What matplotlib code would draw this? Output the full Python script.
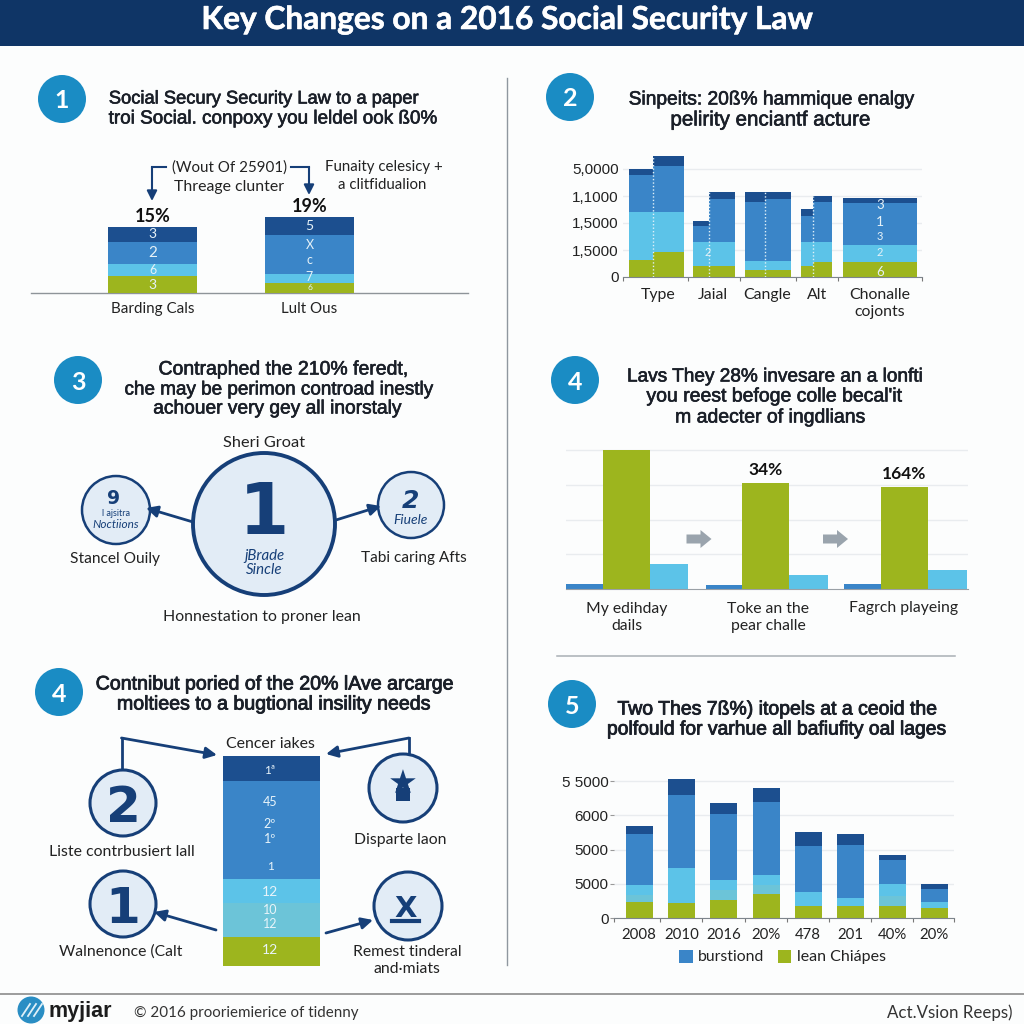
import matplotlib
matplotlib.use("Agg")
import matplotlib.pyplot as plt
import matplotlib.patheffects as pe
from matplotlib.patches import Circle, Rectangle, FancyArrowPatch, FancyArrow
import numpy as np

plt.rcParams['font.family'] = ['Lato', 'Liberation Sans', 'DejaVu Sans']

NAVY = '#163f78'; DARK = '#1c4f8f'; MID = '#3a85c8'; LIGHT = '#5cc3e8'; TEAL = '#6cc4d8'
GREEN = '#9db51e'; BADGE = '#1a8cc4'; TXT = '#222222'; PALE = '#e2ecf6'; GRID = '#e9ecef'
SER_COL = [GREEN, LIGHT, MID, DARK]

title = 'Key Changes on a 2016 Social Security Law'

# Panel 1
p1_cats = ['Barding Cals', 'Lult Ous']
p1_pct = ['15%', '19%']
p1_green = [17, 10]; p1_light = [12, 9]; p1_mid = [22, 39]; p1_dark = [15, 18]

# Panel 2 (split bars)
p2_green = [640, 914, 420, 420, 272, 272, 420, 543, 543]
p2_light = [1755, 1481, 864, 864, 309, 309, 889, 765, 642]
p2_mid = [1370, 1704, 617, 1617, 2198, 2321, 963, 1469, 1543]
p2_dark = [247, 370, 185, 247, 383, 259, 235, 210, 210]
p2_ticks = [0, 1000, 2000, 3000, 4000]
p2_ticklabels = ['0', '1,5000', '1,5000', '1,1000', '5,0000']

# Panel 4 right
p4_cats = ['My edihday\ndails', 'Toke an the\npear challe', 'Fagrch playeing']
p4_green = [139, 106, 102]
p4_blue = [5, 4, 5]
p4_light = [25, 14, 19]
p4_pct = ['', '34%', '164%']

# Panel 4 left stack
s_values = [29, 34, 24, 98, 25]
s_colors = [GREEN, TEAL, LIGHT, MID, DARK]

# Panel 5
p5_cats = ['2008', '2010', '2016', '20%', '478', '201', '40%', '20%']
p5_green = [459, 439, 517, 712, 341, 361, 341, 283]
p5_teal = [224, 0, 293, 254, 0, 0, 293, 0]
p5_light = [283, 1015, 293, 293, 410, 224, 371, 176]
p5_mid = [1493, 2156, 1941, 2137, 1356, 1561, 702, 390]
p5_dark = [234, 468, 322, 400, 410, 322, 146, 137]
p5_ticks = [0, 1000, 2000, 3000, 4000]
p5_ticklabels = ['0', '5000', '5000', '6000', '5 5000']

W = 1024
fig = plt.figure(figsize=(10.24, 10.24), dpi=100, facecolor='#fcfdfd')

def px_axes(x0, y0, x1, y1, z=2):
    ax = fig.add_axes([x0 / W, 1 - y1 / W, (x1 - x0) / W, (y1 - y0) / W], zorder=z)
    ax.patch.set_alpha(0)
    return ax

ov = px_axes(0, 0, W, W, z=1)
ov.set_xlim(0, W); ov.set_ylim(W, 0); ov.axis('off')
top = px_axes(0, 0, W, W, z=9)
top.set_xlim(0, W); top.set_ylim(W, 0); top.axis('off')

def T(x, y, s, size=11.4, color=TXT, weight='normal', ha='center', style='normal', ax=top,
      family=None, va='center', stroke=0, ls=1.3):
    t = ax.text(x, y, s, fontsize=size, color=color, weight=weight, ha=ha, va=va,
                style=style, zorder=6, linespacing=ls, family=family)
    if stroke:
        t.set_path_effects([pe.withStroke(linewidth=stroke, foreground=color)])
    return t

HEAD = ['Liberation Sans', 'DejaVu Sans']
NUM = ['DejaVu Sans']

def H(x, y, s, size=13.5, stroke=0.45, color='#1a1f28'):
    T(x, y, s, size=size, family=HEAD, stroke=stroke, color=color)

def badge(x, y, s, r=24):
    ov.add_patch(Circle((x, y), r, fc=BADGE, ec='none', zorder=4))
    T(x, y, s, size=18, color='white', weight='bold', va='center_baseline')

def ring(x, y, r, lw=2.2):
    ov.add_patch(Circle((x, y), r, fc=PALE, ec=NAVY, lw=lw, zorder=4))

def arrow(pts, lw=2.0, ms=17):
    xs = [p[0] for p in pts]; ys = [p[1] for p in pts]
    if len(pts) > 2:
        ov.plot(xs[:-1], ys[:-1], color=NAVY, lw=lw, zorder=3, solid_joinstyle='miter')
    ov.add_patch(FancyArrowPatch(pts[-2], pts[-1], arrowstyle='-|>', mutation_scale=ms,
                                 color=NAVY, lw=lw, shrinkA=0, shrinkB=0, zorder=5))

# Header / frame
ov.add_patch(Rectangle((0, 0), W, 46, fc='#0f3566', ec='none', zorder=2))
T(506, 17, title, size=22.8, color='white', weight='bold', family=['Lato', 'DejaVu Sans'],
  va='center_baseline', stroke=0.4)
ov.plot([506.5, 506.5], [78, 965], color='#8f979f', lw=1.0, zorder=2)
ov.plot([557, 955], [656, 656], color='#a9afb5', lw=1.1, zorder=2)
ov.plot([0, W], [994, 994], color='#8c8c8c', lw=1.2, zorder=2)

# Badges and headings
badge(62, 99, '1'); badge(570, 97, '2'); badge(78, 380, '3'); badge(575, 380, '4')
badge(59, 692, '4'); badge(572, 704, '5')
H(264, 99, 'Social Secury Security Law to a paper', 13.2)
H(272, 119, 'troi Social. conpoxy you leldel ook ß0%', 13.6)
H(771, 100, 'Sinpeits: 20ß% hammique enalgy', 13.8)
H(770, 120, 'pelirity enciantf acture', 14.8)
H(284, 370, 'Contraphed the 210% feredt,', 14)
H(278, 390, 'che may be perimon controad inestly', 13.6)
H(277, 409, 'achouer very gey all inorstaly', 13.8)
H(774, 377, 'Lavs They 28% invesare an a lonfti', 13.7)
H(775, 397, 'you reest befoge colle becal\'it', 14)
H(771, 418, 'm adecter of ingdlians', 14)
H(276, 684, 'Contnibut poried of the 20% lAve arcarge', 14.1, stroke=0.6)
H(275, 704, 'moltiees to a bugtional insility needs', 14.1, stroke=0.6)
H(778, 710, 'Two Thes 7ß%) itopels at a ceoid the', 14, stroke=0.6)
H(776, 730, 'polfould for varhue all bafiufity oal lages', 13.9, stroke=0.6)

# Panel 1 chart
a1 = px_axes(31, 200, 468, 293)
a1.set_xlim(31, 468); a1.set_ylim(0, 93); a1.axis('off')
p1_x = [152.5, 309.5]
bot = np.zeros(2)
for vals, c, in zip([p1_green, p1_light, p1_mid, p1_dark], SER_COL):
    a1.bar(p1_x, vals, width=89, bottom=bot, color=c, zorder=2)
    bot += np.array(vals)
for i in range(2):
    a1.text(p1_x[i], bot[i] + 11, p1_pct[i], fontsize=13, weight='bold', color='#111111', ha='center', va='center')
ov.plot([31, 468], [293, 293], color='#8e9499', lw=1.0, zorder=3)
for x, c in zip(p1_x, p1_cats):
    T(x, 309, c, 10.9)
for x, y, s, sz in [(152.5, 234, '3', 10), (152.5, 253, '2', 11), (152.5, 270, '6', 9), (152.5, 285, '3', 10),
                    (309.5, 226, '5', 10), (309.5, 245, 'X', 9), (309.5, 260, 'c', 9), (309.5, 277, '7', 9),
                    (309.5, 288, '6', 6)]:
    T(x, y, s, sz, color='#e6f2f8')
arrow([(166, 167), (152, 167), (152, 201)], lw=1.5, ms=15)
arrow([(291, 167), (309, 167), (309, 195)], lw=1.5, ms=15)
T(229, 168, '(Wout Of 25901)', 10.9)
T(229, 187, 'Threage clunter', 11.4)
T(384, 167, 'Funaity celesicy +', 10.8)
T(382, 185, 'a clitfidualion', 10.8)

# Panel 2 chart
a2 = px_axes(623, 140, 922, 277)
a2.set_xlim(623, 922); a2.set_ylim(0, 137 / 27 * 1000)
p2_left = [629, 653, 693, 709, 745, 765, 801, 813, 843]
p2_w = [24, 31, 16, 26, 20, 26, 12, 19, 74]
bot = np.zeros(9)
for vals, c in zip([p2_green, p2_light, p2_mid, p2_dark], SER_COL):
    a2.bar(p2_left, vals, width=p2_w, bottom=bot, align='edge', color=c, zorder=2)
    bot += np.array(vals)
for x, t_ in zip([653, 709, 765, 813], [bot[1], bot[3], bot[5], bot[7]]):
    a2.plot([x, x], [0, t_], color='#dff0f8', lw=1, ls=(0, (1, 1.5)), zorder=3)
a2.set_yticks(p2_ticks)
a2.set_yticklabels(p2_ticklabels, fontsize=11, color=TXT, family=HEAD)
a2.set_xticks([623, 688, 740, 796, 838, 922]); a2.set_xticklabels([])
a2.tick_params(axis='x', length=3, color='#777777')
a2.tick_params(axis='y', length=0, pad=3)
a2.grid(axis='y', color=GRID, lw=1, zorder=0)
for s in ['top', 'right', 'left']:
    a2.spines[s].set_visible(False)
a2.spines['bottom'].set_color('#7d858c')
T(658, 295, 'Type'); T(713, 295, 'Jaial'); T(767, 295, 'Cangle'); T(817, 295, 'Alt')
T(880, 303.5, 'Chonalle\ncojonts', ls=1.32)
for x, y, s, sz in [(880, 205, '3', 9.5), (880, 222, '1', 10), (880, 236, '3', 8), (880, 252, '2', 8), (880, 272, '6', 9.5),
                    (708, 252, '2', 8)]:
    T(x, y, s, sz, color='#e6f2f8')

# Panel 3 diagram
ring(264, 524, 71, lw=2.8)
T(264, 507, '1', 52, color=NAVY, weight='bold', family=NUM, va='center_baseline')
T(264, 556, 'jBrade', 10.8, color=NAVY, style='italic')
T(264, 570, 'Sincle', 10.8, color=NAVY, style='italic')
T(264, 443, 'Sheri Groat', 11.8)
T(262, 617, 'Honnestation to proner lean', 11.45)
ring(116, 510, 34, lw=1.8)
T(114, 496, '9', 13.5, color=NAVY, weight='bold', family=NUM, va='center_baseline')
T(116, 513, 'l ajsitra', 6.5, color=NAVY)
T(116, 525, 'Noctiions', 8.5, color=NAVY, style='italic')
T(115, 559, 'Stancel Ouily', 11.2)
ring(411, 505, 33, lw=1.8)
T(410, 499, '2', 18, color=NAVY, weight='bold', style='italic', family=NUM, va='center_baseline')
T(411, 520, 'Fiuele', 10, color=NAVY, style='italic')
T(414, 558, 'Tabi caring Afts', 11.1)
arrow([(193, 522), (146, 508)])
arrow([(336, 520), (381, 506)])

# Panel 4 right chart
a4 = px_axes(566, 440, 968, 589)
a4.set_xlim(566, 968); a4.set_ylim(0, 149)
a4.set_yticks([35, 69.5, 104, 139])
a4.tick_params(length=0, labelleft=False, labelbottom=False)
a4.grid(axis='y', color=GRID, lw=1, zorder=0)
for s in ['top', 'right', 'left']:
    a4.spines[s].set_visible(False)
a4.spines['bottom'].set_color('#9aa0a6')
x_blue = [584.5, 724, 862]; x_green = [626, 765.8, 904]; x_light = [669, 808.3, 947.5]
a4.bar(x_blue, p4_blue, width=37, color=MID, zorder=2)
a4.bar(x_green, p4_green, width=47, color=GREEN, zorder=3)
a4.bar(x_light, p4_light, width=38.5, color=LIGHT, zorder=2)
for x, v, s in zip(x_green, p4_green, p4_pct):
    if s:
        a4.text(x, v + 13, s, fontsize=12.5, weight='bold', ha='center', va='center', color='#111111')
for x, c in zip([627, 768, 904], p4_cats):
    T(x, 608 if '\n' not in c else 617.5, c, 11.3, ls=1.28)
for x in [686.5, 823]:
    ov.add_patch(FancyArrow(x, 539, 25, 0, width=9, head_width=18, head_length=11,
                            length_includes_head=True, color='#9aa4ad', lw=0, zorder=4))

# Panel 4 left stack
a5 = px_axes(223, 756, 320, 966)
a5.set_xlim(0, 1); a5.set_ylim(0, sum(s_values)); a5.axis('off')
b = 0
for v, c in zip(s_values, s_colors):
    a5.bar(0.5, v, width=1, bottom=b, color=c)
    b += v
T(270, 744, 'Cencer iakes', 11.4)
for y, s, sz in [(770, '1ª', 8.5), (802, '45', 9), (824, '2º', 9), (839, '1º', 9), (867, '1', 8.5),
                 (892, '12', 10), (910, '10', 9), (924, '12', 9), (950, '12', 10)]:
    T(270, y, s, sz, color='#e8f4fa')
ring(123, 803, 33)
T(123, 803, '2', 36, color=NAVY, weight='bold', family=NUM, va='center_baseline')
T(122, 852, 'Liste contrbusiert lall', 11.4)
ring(123, 904, 33)
T(123, 904, '1', 36, color=NAVY, weight='bold', family=NUM, va='center_baseline')
T(121, 952, 'Walnenonce (Calt', 11.3)
ring(403, 788, 34)
T(403, 781, '★', 24, color=NAVY, family=NUM, va='center_baseline')
ov.add_patch(Rectangle((396, 788), 14, 13, fc=NAVY, ec='none', zorder=5))
T(400, 840, 'Disparte laon', 11.3)
ring(408, 906, 34)
T(406, 906, 'X', 21, color=NAVY, weight='bold', family=NUM, va='center_baseline')
ov.plot([392, 419], [921, 921], color=NAVY, lw=3, zorder=5)
T(407, 960.5, 'Remest tinderal\nand·miats', 11.3, ls=1.35)
arrow([(121.5, 771), (121.5, 738), (217, 755)])
arrow([(409, 753), (409, 738), (326, 754)])
arrow([(216, 930), (154, 912)])
arrow([(326, 933), (373, 920)])

# Panel 5 chart
a6 = px_axes(614, 770, 954, 918)
a6.set_xlim(614, 954); a6.set_ylim(0, 148 / 34.2 * 1000)
p5_x = [639, 681.5, 723.5, 766, 808, 850, 892, 934]
bot = np.zeros(8)
for vals, c in zip([p5_green, p5_teal, p5_light, p5_mid, p5_dark], [GREEN, TEAL, LIGHT, MID, DARK]):
    a6.bar(p5_x, vals, width=27, bottom=bot, color=c, zorder=2)
    bot += np.array(vals)
a6.set_yticks(p5_ticks)
a6.set_yticklabels(p5_ticklabels, fontsize=11, color=TXT, family=HEAD)
a6.set_xticks([614, 660, 702, 744.5, 787, 829, 871, 913, 954]); a6.set_xticklabels([])
a6.tick_params(axis='x', length=3, color='#777777')
a6.tick_params(axis='y', length=3, color='#999999', pad=1)
a6.grid(axis='y', color=GRID, lw=1, zorder=0)
for s in ['top', 'right', 'left']:
    a6.spines[s].set_visible(False)
a6.spines['bottom'].set_color('#7d858c')
for x, c in zip(p5_x, p5_cats):
    T(x, 935, c, 10.8)
ov.add_patch(Rectangle((679, 950), 14, 13, fc=MID, ec='none', zorder=4))
T(698, 957, 'burstiond', 11.3, ha='left')
ov.add_patch(Rectangle((778, 950), 13, 13, fc=GREEN, ec='none', zorder=4))
T(797, 957, 'lean Chiápes', 11.5, ha='left')

# Footer
ov.add_patch(Circle((31, 1010), 13.5, fc='#2a8ec4', ec='none', zorder=4))
for dx in [-5, 1, 7]:
    ov.plot([31 + dx - 4, 31 + dx + 4], [1016, 1004], color='#dff0f8', lw=1.3, zorder=5)
T(80, 1011, 'myjiar', 15.5, weight='bold', color='#1c1c1c', family=HEAD)
T(246, 1013, '© 2016 prooriemierice of tidenny', 10.9, color='#333333')
T(950, 1013, 'Act.Vsion Reeps)', 12.2, color='#333333')

fig.savefig('out.png', dpi=100, facecolor=fig.get_facecolor())
